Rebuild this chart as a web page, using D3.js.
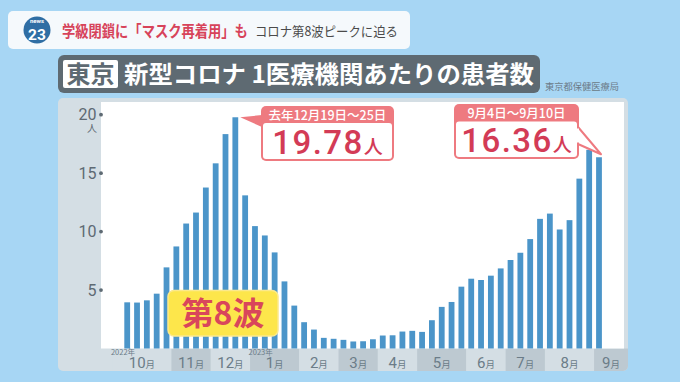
<!DOCTYPE html>
<html><head><meta charset="utf-8">
<script src="https://cdn.jsdelivr.net/npm/d3@7"></script>
<style>body{margin:0;background:#a7d6f4;overflow:hidden}svg{display:block}</style>
</head><body><svg id="c" width="680" height="382"></svg>
<script>
// ---- data ----
const weeks = ["2022-10-03","2022-10-10","2022-10-17","2022-10-24","2022-10-31","2022-11-07","2022-11-14","2022-11-21","2022-11-28",
"2022-12-05","2022-12-12","2022-12-19","2022-12-26","2023-01-02","2023-01-09","2023-01-16","2023-01-23","2023-01-30",
"2023-02-06","2023-02-13","2023-02-20","2023-02-27","2023-03-06","2023-03-13","2023-03-20","2023-03-27",
"2023-04-03","2023-04-10","2023-04-17","2023-04-24","2023-05-01","2023-05-08","2023-05-15","2023-05-22","2023-05-29",
"2023-06-05","2023-06-12","2023-06-19","2023-06-26","2023-07-03","2023-07-10","2023-07-17","2023-07-24","2023-07-31",
"2023-08-07","2023-08-14","2023-08-21","2023-08-28","2023-09-04"];
const values = [3.95,3.93,4.12,4.69,6.94,8.73,10.69,11.63,13.77,15.84,18.34,19.78,13.10,10.47,9.67,8.22,5.74,3.67,2.25,1.62,
0.91,0.83,0.74,0.60,0.62,0.79,1.11,1.13,1.45,1.51,1.42,2.42,3.56,3.98,5.29,5.97,5.86,6.23,6.85,7.57,8.19,9.36,11.09,11.54,
10.18,10.98,14.53,17.00,16.36];
const monthNums = ["10","11","12","1","2","3","4","5","6","7","8","9"];
const monthCounts = [5,4,4,5,4,4,4,5,4,4,5,1];
const yearLabels = {0:"2022年", 3:"2023年"};
const yTicks = [5,10,15,20];
const yUnit = "人";
const headRed = "学級閉鎖に「マスク再着用」も";
const headGray = "コロナ第8波ピークに迫る";
const titleTag = "東京";
const titleText = "新型コロナ 1医療機関あたりの患者数";
const source = "東京都保健医療局";
const waveLabel = "第8波";
const callouts = [
  {idx:11, head:"去年12月19日～25日", val:"19.78", unit:"人"},
  {idx:48, head:"9月4日～9月10日", val:"16.36", unit:"人"}
];

// ---- drawing ----
const svg = d3.select("#c");
const F = "'Noto Sans CJK JP','Noto Sans',sans-serif";
const FD = "Roboto,'Noto Sans',sans-serif";
const pink = "#ee7a80", red = "#d33b56";

// text squeezed horizontally to a given width via a transform
function fitText(parent, tx, ty, width, attrs, str) {
  const gg = parent.append("g");
  const t = gg.append("text").attr("x",0).attr("y",0);
  Object.entries(attrs).forEach(([k,v])=>t.attr(k,v));
  t.text(str);
  const len = t.node().getComputedTextLength();
  gg.attr("transform",`translate(${tx},${ty}) scale(${width/len},1)`);
  return t;
}

// header
svg.append("rect").attr("x",8).attr("y",11).attr("width",402).attr("height",38).attr("rx",5).attr("fill","#f5f9fc");
svg.append("circle").attr("cx",37).attr("cy",30).attr("r",13.5).attr("fill","#2f6ea4");
svg.append("text").attr("x",37).attr("y",23).attr("text-anchor","middle").attr("font-family",FD).attr("font-weight",700)
  .attr("font-size",6).attr("fill","#fff").text("news");
svg.append("text").attr("x",37).attr("y",40).attr("text-anchor","middle").attr("font-family",FD).attr("font-weight",700)
  .attr("font-size",15.5).attr("fill","#fff").text("23");
fitText(svg, 62, 36.5, 186, {"font-family":F,"font-weight":700,"font-size":15.5,"fill":"#d7435a"}, headRed);
fitText(svg, 255, 36, 143, {"font-family":F,"font-size":13,"fill":"#4a4a4a"}, headGray);

// title
svg.append("rect").attr("x",58).attr("y",55).attr("width",482).attr("height",38).attr("rx",6).attr("fill","#5e6a72");
svg.append("rect").attr("x",63).attr("y",60).attr("width",55).attr("height",28).attr("rx",2).attr("fill","#fff");
svg.append("text").attr("x",90.5).attr("y",74).attr("dy","0.36em").attr("text-anchor","middle").attr("font-family",F)
  .attr("font-weight",700).attr("font-size",24).attr("fill","#5e6a72").text(titleTag);
fitText(svg, 124, 74, 410, {"dy":"0.36em","font-family":F,"font-weight":700,"font-size":24,"fill":"#fff"}, titleText);
fitText(svg, 545, 87, 74, {"dy":"0.35em","font-family":F,"font-size":9,"fill":"#6b7b88"}, source);

// panel
const P = {x:58, y:98, w:570, h:273};
const plot = {l:101, t:102, r:624, b:348.5};
const defs = svg.append("defs");
defs.append("clipPath").attr("id","pc").append("rect").attr("x",P.x).attr("y",P.y).attr("width",P.w).attr("height",P.h).attr("rx",5);
const g = svg.append("g").attr("clip-path","url(#pc)");
g.append("rect").attr("x",P.x).attr("y",P.y).attr("width",P.w).attr("height",P.h).attr("fill","#d4dee4");

const x = d3.scaleBand().domain(weeks).range([124.3, 601.9]).paddingInner(0.41).paddingOuter(0);
const y = d3.scaleLinear().domain([0,20]).range([plot.b, 114.7]);
const step = x.step(), bw = x.bandwidth(), gap = step - bw;

// month bands
let start = 0;
const bands = monthNums.map((m,i)=>{
  const first = weeks[start], last = weeks[start+monthCounts[i]-1];
  let x0 = x(first) - gap/2, x1 = x(last) + bw + gap/2;
  if (i===0) x0 -= step;
  if (i===monthNums.length-1) x1 = P.x + P.w;
  const b = {m, i, x0, x1};
  start += monthCounts[i];
  return b;
});
g.selectAll("rect.band").data(bands).join("rect").attr("class","band")
  .attr("x",d=>d.x0).attr("y",plot.b).attr("width",d=>d.x1-d.x0).attr("height",P.y+P.h-plot.b)
  .attr("fill",d=>d.i%2===1?"#bdc9d1":"#d4dee4");

// plot area
g.append("rect").attr("x",plot.l).attr("y",plot.t).attr("width",plot.r-plot.l).attr("height",plot.b-plot.t)
  .attr("fill","#fff");

// month labels
const ml = g.selectAll("text.ml").data(bands).join("text").attr("class","ml")
  .attr("x",d=>(d.x0+d.x1)/2).attr("y",367.5).attr("text-anchor","middle")
  .attr("fill","#6b7c88");
ml.append("tspan").attr("font-family",FD).attr("font-size",15).text(d=>d.m);
ml.append("tspan").attr("font-family",F).attr("font-size",9.5).text("月");
g.selectAll("text.yr").data(bands.filter(d=>yearLabels[d.i])).join("text").attr("class","yr")
  .attr("x",d=>d.x0-1.5).attr("y",354.5).attr("font-family",F).attr("font-size",7.5).attr("fill","#6b7c88")
  .text(d=>yearLabels[d.i]);

// bars
g.selectAll("rect.bar").data(values).join("rect").attr("class","bar")
  .attr("x",(d,i)=>x(weeks[i])).attr("width",bw)
  .attr("y",d=>y(d)).attr("height",d=>y(0)-y(d)).attr("fill","#4b95c9");

// y axis
svg.selectAll("circle.tk").data(yTicks).join("circle").attr("class","tk")
  .attr("cx",plot.l).attr("cy",d=>y(d)).attr("r",1.9).attr("fill","#5e6a73");
svg.selectAll("text.yl").data(yTicks).join("text").attr("class","yl")
  .attr("x",96.5).attr("y",d=>y(d)).attr("dy","0.36em").attr("text-anchor","end").attr("font-family",FD)
  .attr("font-size",16).attr("fill","#5e6a73").text(d=>d);
svg.append("text").attr("x",92).attr("y",y(20)+13.5).attr("dy","0.36em").attr("text-anchor","middle")
  .attr("font-family",F).attr("font-size",10).attr("fill","#5e6a73").text(yUnit);

// wave label
svg.append("rect").attr("x",168).attr("y",290.5).attr("width",110).attr("height",45.5).attr("rx",6)
  .attr("fill","#fde64b").attr("stroke","#fbe98c").attr("stroke-width",1.5);
svg.append("text").attr("x",223).attr("y",313.5).attr("dy","0.36em").attr("text-anchor","middle").attr("font-family",F)
  .attr("font-weight",700).attr("font-size",32).attr("fill","#d9465b").text(waveLabel);

// callouts
const boxes = [{x:261, y:106, w:133, h:55, hh:17, side:"left"},{x:454, y:104, w:125, h:55, hh:17.5, side:"right"}];
callouts.forEach((c,k)=>{
  const b = boxes[k];
  const tipX = b.side==="left" ? x(weeks[c.idx]) + bw + 2 : x(weeks[c.idx]) + bw/2 + 2;
  const tipY = b.side==="left" ? y(values[c.idx]) : y(values[c.idx]) - 3;
  svg.append("rect").attr("x",b.x).attr("y",b.y).attr("width",b.w).attr("height",b.h).attr("rx",5).attr("fill",pink);
  svg.append("rect").attr("x",b.x+2).attr("y",b.y+b.hh).attr("width",b.w-4).attr("height",b.h-b.hh-2).attr("rx",3).attr("fill","#fff");
  if (b.side==="left") {
    svg.append("path").attr("d",`M${b.x+1},${b.y+9}L${tipX},${tipY}L${b.x+1},${b.y+21}Z`).attr("fill",pink);
  } else {
    const bx = b.x+b.w;
    svg.append("path").attr("d",`M${bx-1},${b.y+23}L${tipX},${tipY}L${bx-1},${b.y+40}Z`).attr("fill","#fff")
      .attr("stroke",pink).attr("stroke-width",2).attr("stroke-linejoin","round");
    svg.append("rect").attr("x",bx-3).attr("y",b.y+24.5).attr("width",3).attr("height",14).attr("fill","#fff");
  }
  svg.append("text").attr("x",b.x+b.w/2).attr("y",b.y+13.5).attr("text-anchor","middle").attr("font-family",F)
    .attr("font-weight",500).attr("font-size",12.5).attr("fill","#fff").text(c.head);
  const t = svg.append("text").attr("x",b.x+b.w/2).attr("y",b.y+47.5).attr("text-anchor","middle")
    .attr("fill",red);
  t.append("tspan").attr("font-family",FD).attr("font-weight",500).attr("font-size",33).attr("letter-spacing",1.5).text(c.val);
  t.append("tspan").attr("font-family",F).attr("font-weight",500).attr("font-size",19).text(c.unit);
});
</script></body></html>
